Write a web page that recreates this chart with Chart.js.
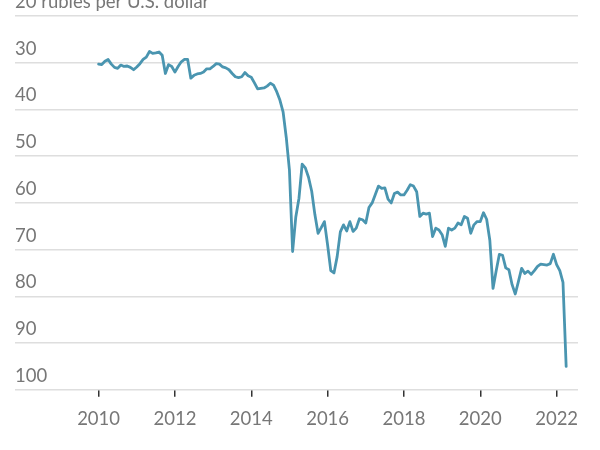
<!DOCTYPE html>
<html>
<head>
<meta charset="utf-8">
<script src="https://cdn.jsdelivr.net/npm/chart.js@4"></script>
<style>
  html, body { margin: 0; padding: 0; background: #ffffff; }
  #wrap { width: 600px; height: 450px; }
</style>
</head>
<body>
<div id="wrap"><canvas id="c" width="600" height="450"></canvas></div>
<script>
// Monthly rubles per U.S. dollar, starting January 2010
const startYear = 2010;
const rubles2010 = [30.3, 30.4, 29.7, 29.3, 30.3, 31.0, 31.2, 30.5, 30.8, 30.7, 31.0, 31.5];
const rubles2011 = [30.9, 30.2, 29.3, 28.8, 27.6, 28.0, 27.9, 27.7, 28.4, 32.3, 30.4, 30.8];
const rubles2012 = [32.0, 30.8, 29.8, 29.3, 29.3, 33.3, 32.7, 32.4, 32.3, 32.0, 31.3, 31.3];
const rubles2013 = [30.8, 30.2, 30.3, 30.9, 31.1, 31.5, 32.3, 33.0, 33.2, 33.0, 32.1, 32.8];
const rubles2014 = [33.1, 34.3, 35.6, 35.5, 35.4, 35.0, 34.4, 34.8, 36.2, 38.0, 40.5, 46.0];
const rubles2015 = [53.0, 70.4, 63.0, 59.0, 51.7, 52.5, 54.5, 57.5, 62.5, 66.5, 65.3, 64.0];
const rubles2016 = [69.0, 74.5, 75.0, 71.5, 66.2, 64.7, 66.0, 64.0, 66.1, 65.4, 63.4, 63.6];
const rubles2017 = [64.3, 61.0, 60.0, 58.2, 56.4, 56.9, 56.8, 59.2, 60.0, 58.0, 57.7, 58.3];
const rubles2018 = [58.3, 57.3, 56.1, 56.4, 57.6, 62.9, 62.2, 62.4, 62.2, 67.2, 65.4, 65.8];
const rubles2019 = [66.8, 69.3, 65.4, 65.8, 65.4, 64.3, 64.7, 62.9, 63.3, 66.5, 64.7, 64.0];
const rubles2020 = [64.0, 62.1, 63.5, 68.0, 78.3, 74.5, 71.0, 71.2, 73.9, 74.3, 77.5, 79.5];
const rubles2021 = [76.8, 74.0, 75.1, 74.6, 75.3, 74.5, 73.6, 73.1, 73.2, 73.3, 73.0, 71.0];
const rubles2022 = [73.2, 74.5, 77.0, 95.0];

const yearTicks = [2010, 2012, 2014, 2016, 2018, 2020, 2022];
const rubleTicks = [20, 30, 40, 50, 60, 70, 80, 90, 100];
const unitLabel = '20 rubles per U.S. dollar';

const monthly = [].concat(rubles2010, rubles2011, rubles2012, rubles2013, rubles2014,
  rubles2015, rubles2016, rubles2017, rubles2018, rubles2019, rubles2020, rubles2021, rubles2022);
const points = monthly.map((v, i) => ({ x: startYear + i / 12, y: v }));

const FONT = 'Lato, "Open Sans", "DejaVu Sans", sans-serif';

new Chart(document.getElementById('c'), {
  type: 'line',
  data: {
    datasets: [{
      data: points,
      borderColor: '#4a95b0',
      borderWidth: 2.8,
      pointRadius: 0,
      tension: 0,
      borderJoinStyle: 'round',
      borderCapStyle: 'round',
      fill: false
    }]
  },
  options: {
    responsive: false,
    animation: false,
    devicePixelRatio: 1,
    layout: { padding: { left: 15, right: 22, top: 16, bottom: 9 } },
    plugins: { legend: { display: false }, tooltip: { enabled: false } },
    scales: {
      x: {
        type: 'linear',
        min: 2007.81,
        max: 2022.56,
        afterBuildTicks: (scale) => { scale.ticks = yearTicks.map(v => ({ value: v })); },
        border: { display: false },
        grid: {
          drawOnChartArea: false,
          drawTicks: true,
          tickLength: 7,
          color: '#333333',
          lineWidth: 1.5
        },
        ticks: {
          padding: 11,
          color: '#777777',
          font: { family: FONT, size: 18.5 },
          maxRotation: 0,
          autoSkip: false,
          callback: (v) => String(v)
        }
      },
      y: {
        type: 'linear',
        reverse: true,
        min: 20,
        max: 100,
        afterBuildTicks: (scale) => { scale.ticks = rubleTicks.map(v => ({ value: v })); },
        border: { display: false },
        grid: {
          drawTicks: false,
          color: '#dedede',
          lineWidth: 1.5
        },
        ticks: {
          mirror: true,
          padding: 0,
          labelOffset: -14,
          color: '#777777',
          font: { family: FONT, size: 18.5 },
          callback: (v) => (v === 20 ? unitLabel : String(v))
        }
      }
    }
  }
});
</script>
</body>
</html>
